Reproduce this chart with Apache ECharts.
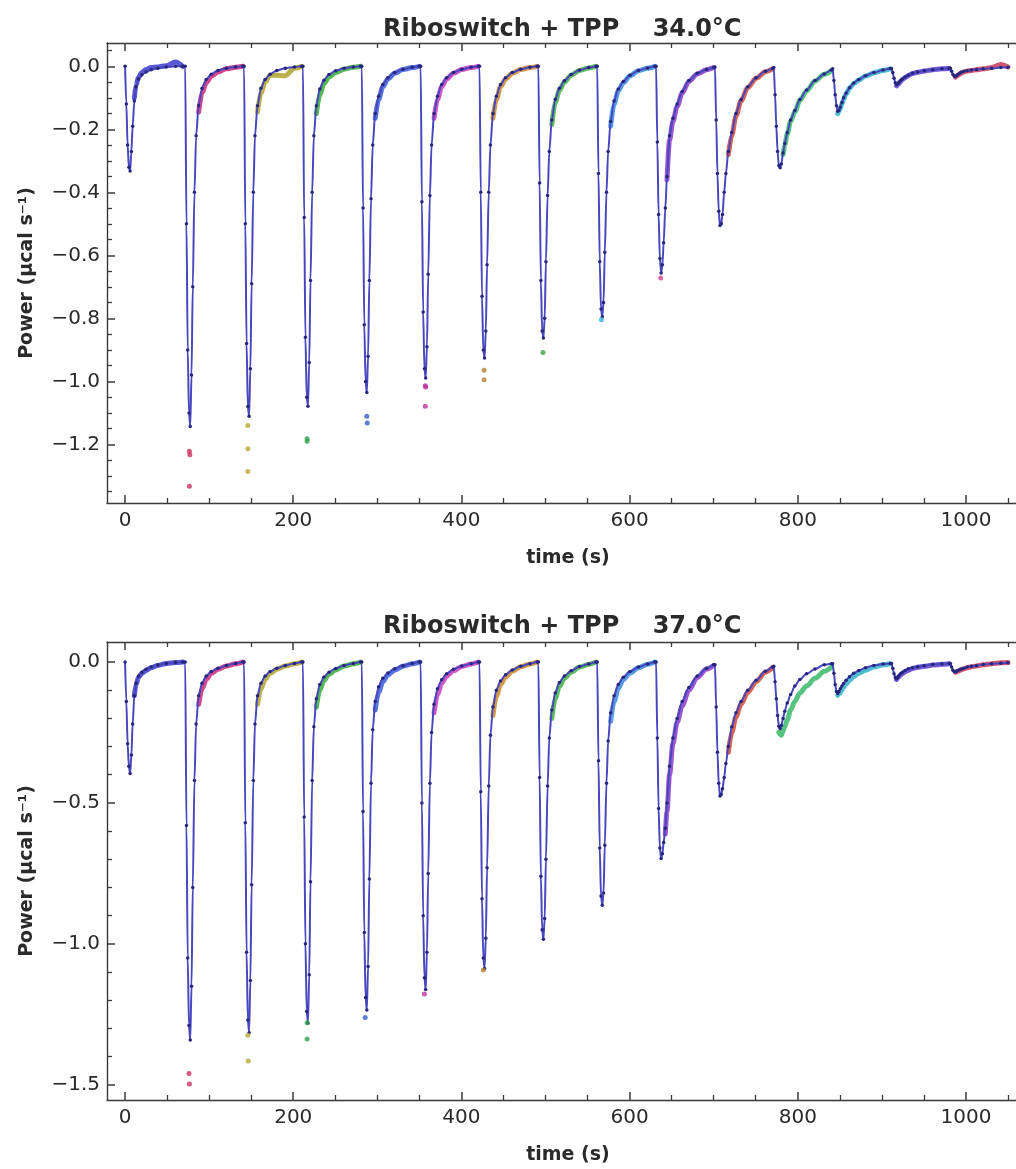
<!DOCTYPE html>
<html><head><meta charset="utf-8">
<script src="https://cdn.jsdelivr.net/npm/echarts@6/dist/echarts.min.js"></script>
<style>html,body{margin:0;padding:0;background:#fff;overflow:hidden}#c{width:1016px;height:1169px}</style>
</head><body><div id="c"></div>
<script>
// ---------- data ----------
const TITLES = ['Riboswitch + TPP    34.0°C', 'Riboswitch + TPP    37.0°C'];
const X_NAME = 'time (s)';
const Y_NAME = 'Power (μcal s⁻¹)';

// injection start times (s)
const INJ_START = [0, 71.5, 141.5, 211.5, 281.5, 351.5, 421.5, 491.5, 561.5, 631.5, 701.5, 771.5, 841.5, 911.5, 981.5];
// sample times relative to each injection start (s)
const FIT_OFFSETS  = [0, 1.5, 3, 4.5, 6, 7.5, 9, 11, 13, 16, 20, 25, 31, 39, 49, 60, 68.5];
const DATA_OFFSETS = [6, 9, 11, 13, 16, 20, 25, 31, 39, 49, 60, 68.5];

// 34.0 °C : fitted curve (µcal/s) per injection
const FIT_34 = [
  [0, -0.12, -0.25, -0.32, -0.332, -0.27, -0.19, -0.11, -0.065, -0.04, -0.027, -0.018, -0.011, -0.006, -0.002, 0, 0],
  [0, -0.50, -0.90, -1.10, -1.143, -0.98, -0.70, -0.40, -0.22, -0.125, -0.07, -0.042, -0.025, -0.013, -0.006, -0.002, 0],
  [0, -0.50, -0.88, -1.08, -1.111, -0.96, -0.69, -0.40, -0.22, -0.125, -0.07, -0.042, -0.025, -0.013, -0.006, -0.002, 0],
  [0, -0.48, -0.86, -1.05, -1.079, -0.94, -0.68, -0.40, -0.22, -0.125, -0.072, -0.044, -0.026, -0.014, -0.006, -0.002, 0],
  [0, -0.45, -0.82, -1.00, -1.035, -0.92, -0.68, -0.42, -0.25, -0.15, -0.095, -0.058, -0.036, -0.020, -0.009, -0.003, 0],
  [0, -0.43, -0.78, -0.96, -0.989, -0.89, -0.66, -0.41, -0.25, -0.15, -0.095, -0.058, -0.036, -0.020, -0.009, -0.003, 0],
  [0, -0.40, -0.73, -0.90, -0.926, -0.84, -0.63, -0.40, -0.25, -0.15, -0.095, -0.058, -0.036, -0.020, -0.009, -0.003, 0],
  [0, -0.37, -0.68, -0.84, -0.862, -0.80, -0.62, -0.41, -0.27, -0.17, -0.105, -0.07, -0.046, -0.026, -0.012, -0.004, 0],
  [0, -0.34, -0.62, -0.77, -0.795, -0.75, -0.59, -0.40, -0.27, -0.175, -0.11, -0.072, -0.048, -0.028, -0.013, -0.005, 0],
  [0, -0.24, -0.47, -0.61, -0.656, -0.63, -0.56, -0.45, -0.35, -0.22, -0.165, -0.12, -0.08, -0.045, -0.022, -0.01, -0.004],
  [-0.002, -0.17, -0.34, -0.46, -0.505, -0.50, -0.47, -0.40, -0.34, -0.27, -0.21, -0.15, -0.105, -0.065, -0.036, -0.016, -0.007],
  [-0.004, -0.09, -0.19, -0.27, -0.315, -0.322, -0.31, -0.275, -0.245, -0.21, -0.17, -0.14, -0.105, -0.075, -0.045, -0.024, -0.012],
  [-0.008, -0.045, -0.09, -0.125, -0.143, -0.14, -0.13, -0.115, -0.10, -0.085, -0.068, -0.053, -0.042, -0.03, -0.02, -0.012, -0.007],
  [-0.007, -0.02, -0.038, -0.052, -0.058, -0.055, -0.05, -0.045, -0.04, -0.034, -0.028, -0.022, -0.018, -0.014, -0.011, -0.008, -0.006],
  [-0.006, -0.016, -0.026, -0.031, -0.032, -0.029, -0.026, -0.022, -0.019, -0.016, -0.014, -0.012, -0.010, -0.008, -0.006, -0.004, -0.003]
];
// 34.0 °C : measured trace per injection (null = not drawn)
const DATA_34 = [
  [null, null, -0.10, -0.06, -0.035, -0.02, -0.01, -0.004, -0.002, 0.002, 0.014, 0.0],
  [null, null, null, null, -0.145, -0.085, -0.052, -0.032, -0.018, -0.008, -0.003, 0],
  [null, null, null, null, -0.145, -0.085, -0.05, -0.028, -0.028, -0.03, -0.006, 0],
  [null, null, null, null, -0.15, -0.09, -0.055, -0.034, -0.02, -0.009, -0.003, 0],
  [null, null, null, null, -0.165, -0.105, -0.065, -0.04, -0.022, -0.01, -0.004, 0],
  [null, null, null, null, -0.165, -0.105, -0.065, -0.04, -0.022, -0.01, -0.004, 0],
  [null, null, null, null, -0.165, -0.105, -0.065, -0.04, -0.022, -0.01, -0.004, 0],
  [null, null, null, null, -0.185, -0.115, -0.077, -0.05, -0.028, -0.013, -0.005, 0],
  [null, null, null, null, -0.19, -0.12, -0.078, -0.052, -0.03, -0.014, -0.006, 0],
  [null, null, null, -0.36, -0.235, -0.175, -0.128, -0.085, -0.048, -0.024, -0.011, -0.004],
  [null, null, null, null, -0.28, -0.22, -0.158, -0.11, -0.068, -0.038, -0.017, -0.008],
  [null, null, -0.28, -0.25, -0.215, -0.175, -0.145, -0.108, -0.078, -0.047, -0.025, -0.013],
  [-0.15, -0.135, -0.12, -0.105, -0.088, -0.07, -0.055, -0.044, -0.031, -0.021, -0.013, -0.008],
  [-0.062, -0.055, -0.048, -0.042, -0.036, -0.029, -0.023, -0.019, -0.015, -0.011, -0.008, -0.007],
  [-0.034, -0.029, -0.025, -0.021, -0.018, -0.015, -0.013, -0.011, -0.008, -0.004, 0.006, -0.002]
];
// 34.0 °C : isolated points below the peaks [time, power, injection index]
const OUT_34 = [
  [76.5, -1.222, 1], [77, -1.233, 1], [76.5, -1.333, 1],
  [146, -1.14, 2], [146, -1.214, 2], [146, -1.286, 2],
  [216.5, -1.182, 3], [216.5, -1.19, 3],
  [287.5, -1.111, 4], [288, -1.132, 4],
  [357, -1.014, 5], [357.5, -1.018, 5], [357, -1.079, 5],
  [427, -0.965, 6], [427, -0.995, 6],
  [497, -0.908, 7],
  [566.5, -0.804, 8],
  [637, -0.672, 9]
];

// 37.0 °C : fitted curve
const FIT_37 = [
  [0, -0.14, -0.29, -0.37, -0.396, -0.33, -0.22, -0.12, -0.075, -0.05, -0.036, -0.026, -0.018, -0.011, -0.005, -0.002, 0],
  [0, -0.58, -1.05, -1.29, -1.341, -1.15, -0.80, -0.42, -0.22, -0.12, -0.075, -0.05, -0.034, -0.022, -0.012, -0.005, 0],
  [0, -0.57, -1.03, -1.27, -1.315, -1.13, -0.79, -0.42, -0.22, -0.12, -0.075, -0.05, -0.034, -0.022, -0.012, -0.005, 0],
  [0, -0.55, -1.00, -1.24, -1.282, -1.11, -0.78, -0.42, -0.23, -0.13, -0.08, -0.053, -0.036, -0.023, -0.012, -0.005, 0],
  [0, -0.53, -0.96, -1.19, -1.235, -1.08, -0.77, -0.43, -0.24, -0.14, -0.088, -0.058, -0.039, -0.024, -0.013, -0.005, 0],
  [0, -0.50, -0.90, -1.12, -1.162, -1.03, -0.75, -0.43, -0.25, -0.15, -0.095, -0.063, -0.042, -0.026, -0.014, -0.006, 0],
  [0, -0.46, -0.84, -1.05, -1.087, -0.98, -0.73, -0.44, -0.26, -0.16, -0.10, -0.067, -0.045, -0.028, -0.015, -0.006, 0],
  [0, -0.41, -0.76, -0.95, -0.984, -0.91, -0.70, -0.44, -0.27, -0.17, -0.11, -0.073, -0.05, -0.031, -0.016, -0.007, 0],
  [0, -0.35, -0.66, -0.83, -0.863, -0.82, -0.65, -0.43, -0.28, -0.18, -0.12, -0.08, -0.054, -0.034, -0.018, -0.007, 0],
  [0, -0.27, -0.52, -0.66, -0.697, -0.68, -0.64, -0.59, -0.50, -0.37, -0.27, -0.20, -0.14, -0.09, -0.05, -0.022, -0.01],
  [-0.01, -0.16, -0.32, -0.43, -0.475, -0.47, -0.45, -0.41, -0.36, -0.30, -0.23, -0.18, -0.14, -0.10, -0.065, -0.033, -0.018],
  [-0.015, -0.07, -0.13, -0.19, -0.228, -0.236, -0.225, -0.20, -0.175, -0.145, -0.115, -0.085, -0.062, -0.042, -0.025, -0.01, -0.006],
  [-0.006, -0.04, -0.08, -0.105, -0.112, -0.105, -0.095, -0.085, -0.076, -0.065, -0.052, -0.04, -0.03, -0.02, -0.012, -0.007, -0.005],
  [-0.005, -0.022, -0.042, -0.055, -0.059, -0.054, -0.047, -0.041, -0.036, -0.03, -0.024, -0.02, -0.017, -0.013, -0.009, -0.007, -0.005],
  [-0.005, -0.018, -0.029, -0.034, -0.035, -0.033, -0.03, -0.027, -0.025, -0.022, -0.018, -0.015, -0.013, -0.009, -0.006, -0.004, -0.003]
];
// 37.0 °C : measured trace
const DATA_37 = [
  [null, null, -0.12, -0.08, -0.055, -0.04, -0.03, -0.02, -0.012, -0.005, -0.002, 0],
  [null, null, null, null, -0.15, -0.095, -0.062, -0.04, -0.026, -0.014, -0.006, 0],
  [null, null, null, null, -0.15, -0.095, -0.062, -0.04, -0.026, -0.014, -0.006, 0],
  [null, null, null, null, -0.16, -0.10, -0.066, -0.043, -0.028, -0.014, -0.006, 0],
  [null, null, null, null, -0.17, -0.108, -0.07, -0.046, -0.029, -0.015, -0.006, 0],
  [null, null, null, null, -0.18, -0.115, -0.076, -0.05, -0.031, -0.016, -0.007, 0],
  [null, null, null, null, -0.19, -0.122, -0.08, -0.054, -0.033, -0.017, -0.007, 0],
  [null, null, null, null, -0.20, -0.13, -0.087, -0.058, -0.036, -0.018, -0.008, 0],
  [null, null, null, null, -0.21, -0.14, -0.094, -0.062, -0.039, -0.02, -0.008, 0],
  [null, null, -0.61, -0.53, -0.40, -0.29, -0.215, -0.155, -0.10, -0.055, -0.025, -0.012],
  [null, null, null, null, -0.32, -0.25, -0.195, -0.15, -0.108, -0.07, -0.036, -0.02],
  [-0.25, -0.26, -0.245, -0.23, -0.205, -0.17, -0.14, -0.11, -0.085, -0.058, -0.033, -0.018],
  [-0.118, -0.11, -0.1, -0.09, -0.078, -0.065, -0.052, -0.04, -0.029, -0.018, -0.01, -0.006],
  [-0.062, -0.052, -0.046, -0.041, -0.035, -0.029, -0.023, -0.019, -0.015, -0.011, -0.008, -0.006],
  [-0.036, -0.033, -0.03, -0.027, -0.024, -0.02, -0.017, -0.014, -0.01, -0.006, -0.003, -0.002]
];
const OUT_37 = [
  [76, -1.46, 1], [76.5, -1.497, 1],
  [146, -1.324, 2], [146.5, -1.416, 2],
  [216.5, -1.28, 3], [216.5, -1.338, 3],
  [285.5, -1.261, 4],
  [356, -1.178, 5],
  [426, -1.093, 6]
];

// axis ticks
const X_MAJOR = [0, 200, 400, 600, 800, 1000];
const X_MINOR = [50, 100, 150, 250, 300, 350, 450, 500, 550, 650, 700, 750, 850, 900, 950, 1050];
const Y34_MAJOR = [0, -0.2, -0.4, -0.6, -0.8, -1.0, -1.2];
const Y34_MINOR = [0.05, -0.05, -0.1, -0.15, -0.25, -0.3, -0.35, -0.45, -0.5, -0.55, -0.65, -0.7, -0.75, -0.85, -0.9, -0.95, -1.05, -1.1, -1.15, -1.25, -1.3, -1.35];
const Y37_MAJOR = [0, -0.5, -1.0, -1.5];
const Y37_MINOR = [-0.1, -0.2, -0.3, -0.4, -0.6, -0.7, -0.8, -0.9, -1.1, -1.2, -1.3, -1.4];

// ---------- styles ----------
const INJ_COLORS = ['#3b3bc8', '#c8287a', '#b0a22a', '#3aaa3a', '#3a5ad8', '#c83cc0', '#c8882a', '#44b044',
                    '#3a8ae0', '#8a3ac8', '#d04a3a', '#3ab86a', '#30b0c8', '#5a3ad0', '#c83a5a'];
const OUT_COLORS = ['#3b3bc8', '#c8305e', '#b8a830', '#30a050', '#3060c8', '#c030a0', '#b08030', '#40a040',
                    '#30b0e0', '#d04890', '#d04a3a', '#3ab86a', '#30b0c8', '#5a3ad0', '#c83a5a'];
const FONT = 'DejaVu Sans';
const AX = '#3a3a3a';
const TXT = '#2a2a2a';

const GRIDS = [
  { top: 43, height: 460, ymin: -1.386, ymax: 0.074, yMajor: Y34_MAJOR, yMinor: Y34_MINOR, fit: FIT_34, data: DATA_34, out: OUT_34, titleTop: 18 },
  { top: 642, height: 458, ymin: -1.554, ymax: 0.071, yMajor: Y37_MAJOR, yMinor: Y37_MINOR, fit: FIT_37, data: DATA_37, out: OUT_37, titleTop: 615 }
];
const XMIN = -21.5, XMAX = 1075;

function fmtY(v) {
  const s = Math.abs(v).toFixed(1);
  return (v < -1e-9 ? '−' : '') + s;
}
function fmtX(v) { return String(Math.round(v)); }

const option = { animation: false, backgroundColor: '#fff', title: [], grid: [], xAxis: [], yAxis: [], series: [] };

GRIDS.forEach((G, g) => {
  option.title.push({
    text: TITLES[g], left: 383, top: G.titleTop, padding: 0,
    textStyle: { fontFamily: FONT, fontSize: 24, fontWeight: 'bold', color: TXT }
  });
  option.grid.push({ left: 107, top: G.top, width: 922, height: G.height, outerBoundsMode: 'none', containLabel: false });
  const xBase = { type: 'value', gridIndex: g, min: XMIN, max: XMAX, splitLine: { show: false } };
  const lineOn = () => ({ show: true, onZero: false, lineStyle: { color: AX, width: 1.4 } });
  const lineOff = () => ({ show: false, onZero: false });
  const majorTick = vals => ({ show: true, inside: true, length: 8, customValues: vals, lineStyle: { color: AX, width: 1.5 } });
  const minorTick = vals => ({ show: true, inside: true, length: 5, customValues: vals, lineStyle: { color: AX, width: 1.3 } });
  option.xAxis.push(Object.assign({}, xBase, {
    position: 'bottom', axisLine: lineOn(), axisTick: majorTick(X_MAJOR),
    axisLabel: { customValues: X_MAJOR, formatter: fmtX, fontFamily: FONT, fontSize: 20, color: TXT, margin: 8 },
    name: X_NAME, nameLocation: 'middle', nameGap: 46,
    nameTextStyle: { fontFamily: FONT, fontSize: 19, fontWeight: 'bold', color: TXT }
  }));
  option.xAxis.push(Object.assign({}, xBase, {
    position: 'bottom', axisLine: lineOff(), axisTick: minorTick(X_MINOR), axisLabel: { show: false }
  }));
  option.xAxis.push(Object.assign({}, xBase, {
    position: 'top', axisLine: lineOn(), axisTick: majorTick(X_MAJOR), axisLabel: { show: false }
  }));
  option.xAxis.push(Object.assign({}, xBase, {
    position: 'top', axisLine: lineOff(), axisTick: minorTick(X_MINOR), axisLabel: { show: false }
  }));
  const yBase = { type: 'value', gridIndex: g, min: G.ymin, max: G.ymax, splitLine: { show: false }, position: 'left' };
  option.yAxis.push(Object.assign({}, yBase, {
    axisLine: lineOn(), axisTick: majorTick(G.yMajor),
    axisLabel: { customValues: G.yMajor, formatter: fmtY, fontFamily: FONT, fontSize: 20, color: TXT, margin: 7 },
    name: Y_NAME, nameLocation: 'middle', nameGap: 70,
    nameTextStyle: { fontFamily: FONT, fontSize: 19, fontWeight: 'bold', color: TXT }
  }));
  option.yAxis.push(Object.assign({}, yBase, {
    axisLine: lineOff(), axisTick: minorTick(G.yMinor), axisLabel: { show: false }
  }));

  const xi = g * 4, yi = g * 2;
  // measured traces, one colour per injection
  G.data.forEach((row, i) => {
    option.series.push({
      type: 'line', xAxisIndex: xi, yAxisIndex: yi, z: 2,
      data: row.map((v, j) => [INJ_START[i] + DATA_OFFSETS[j], v === null ? '-' : v]),
      showSymbol: false, smooth: 0.3, smoothMonotone: 'x', connectNulls: false,
      lineStyle: { color: INJ_COLORS[i], width: 5, opacity: 0.85, cap: 'round' },
      silent: true
    });
  });
  // fitted curve with its sample dots
  const fitPts = [];
  G.fit.forEach((row, i) => row.forEach((v, j) => fitPts.push([INJ_START[i] + FIT_OFFSETS[j], v])));
  option.series.push({
    type: 'line', xAxisIndex: xi, yAxisIndex: yi, z: 3,
    data: fitPts, smooth: 0.3, smoothMonotone: 'x',
    showSymbol: true, symbol: 'circle', symbolSize: 3.5,
    itemStyle: { color: '#26267e' },
    lineStyle: { color: '#4848be', width: 2 },
    silent: true
  });
  // isolated peak points
  option.series.push({
    type: 'scatter', xAxisIndex: xi, yAxisIndex: yi, z: 4, symbolSize: 5,
    data: G.out.map(p => ({ value: [p[0], p[1]], itemStyle: { color: OUT_COLORS[p[2]] } })),
    silent: true
  });
});

const chart = echarts.init(document.getElementById('c'));
chart.setOption(option);
</script>
</body></html>
